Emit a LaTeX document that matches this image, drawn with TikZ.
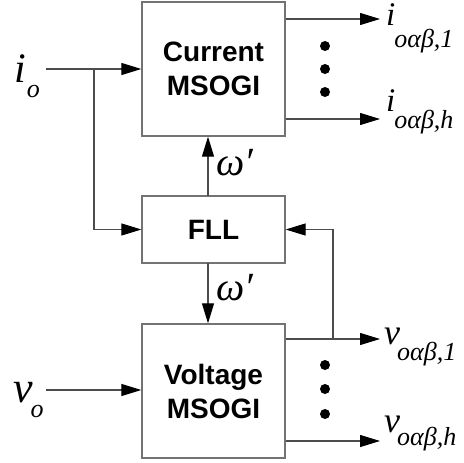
\documentclass[tikz,border=0pt]{standalone}
\usepackage{fontspec}
\setmainfont{Liberation Sans}
\newfontfamily\tnr{Liberation Serif}
\usetikzlibrary{arrows.meta,positioning,calc}
\tikzset{blk/.style={draw=black!55,line width=1.3pt,fill=white,minimum width=143pt,align=center,font=\fontsize{28}{34}\selectfont\bfseries},
  sig/.style={draw=black!70,line width=1.1pt,-{Triangle[length=20pt,width=12pt,color=black]}},
  wire/.style={draw=black!70,line width=1.1pt},
  Dot/.style={circle,fill=black,inner sep=0pt,minimum size=10pt},
  lab/.style={anchor=base west,inner sep=0pt}}
% #1 size of letter, #2 letter, #3 subscript, #4 kern, #5 drop
\newcommand{\sgl}[5]{{\tnr\itshape\fontsize{#1}{#1}\selectfont #2}\kern#4\raisebox{-#5}{\tnr\itshape\fontsize{26}{26}\selectfont #3}}

\begin{document}
\begin{tikzpicture}[x=1pt,y=-1pt]
  \useasboundingbox (0,0) rectangle (464,463);
  % blocks
  \node[blk,minimum height=134pt] (cur) at (213.5,69) {Current\\MSOGI};
  \node[blk,minimum height=67pt] (fll) at (213.5,229.5) {FLL};
  \node[blk,minimum height=134pt] (volt) at (213.5,391) {Voltage\\MSOGI};
  % inputs
  \node[lab] (ilab) at (14,82) {\sgl{42}{i}{o}{1pt}{15pt}};
  \node[lab] (vlab) at (13,402) {\sgl{44}{v}{o}{-2pt}{15pt}};
  \coordinate (iin) at (46,69);
  \coordinate (vin) at (46,390);
  \coordinate (br) at (94,69);
  \draw[sig] (iin) -- (cur.west |- iin);
  \draw[sig] (br) |- (fll.west);
  \draw[sig] (vin) -- (volt.west |- vin);
  % omega'
  \coordinate (wup) at (208,196);
  \coordinate (wdn) at (208,263);
  \draw[sig] (wup) -- (cur.south -| wup);
  \draw[sig] (wdn) -- (volt.north -| wdn);
  \node[lab,font=\tnr\itshape\fontsize{40}{40}\selectfont] (w1) at (216,175) {ω′};
  \node[lab,font=\tnr\itshape\fontsize{40}{40}\selectfont] (w2) at (216,300) {ω′};
  % outputs current
  \coordinate (co1) at (380,19);
  \coordinate (coh) at (380,119);
  \draw[sig] (cur.east |- co1) -- (co1);
  \draw[sig] (cur.east |- coh) -- (coh);
  \node[lab] (i1) at (386,26) {\sgl{33}{i}{oαβ,1}{-1pt}{21pt}};
  \node[lab] (ih) at (386,111) {\sgl{33}{i}{oαβ,h}{-1pt}{17pt}};
  \foreach \y in {46,69,92} \node[Dot] at (325,\y) {};
  % outputs voltage
  \coordinate (vo1) at (380,339);
  \coordinate (voh) at (380,441);
  \coordinate (fb) at (333,339);
  \draw[sig] (volt.east |- vo1) -- (vo1);
  \draw[sig] (volt.east |- voh) -- (voh);
  \draw[sig] (fb) |- (fll.east);
  \node[lab] (v1) at (384,344) {\sgl{36}{v}{oαβ,1}{-3pt}{16pt}};
  \node[lab] (vh) at (384,432) {\sgl{36}{v}{oαβ,h}{-3pt}{13pt}};
  \foreach \y in {365,389,414} \node[Dot] at (325,\y) {};
\end{tikzpicture}
\end{document}
